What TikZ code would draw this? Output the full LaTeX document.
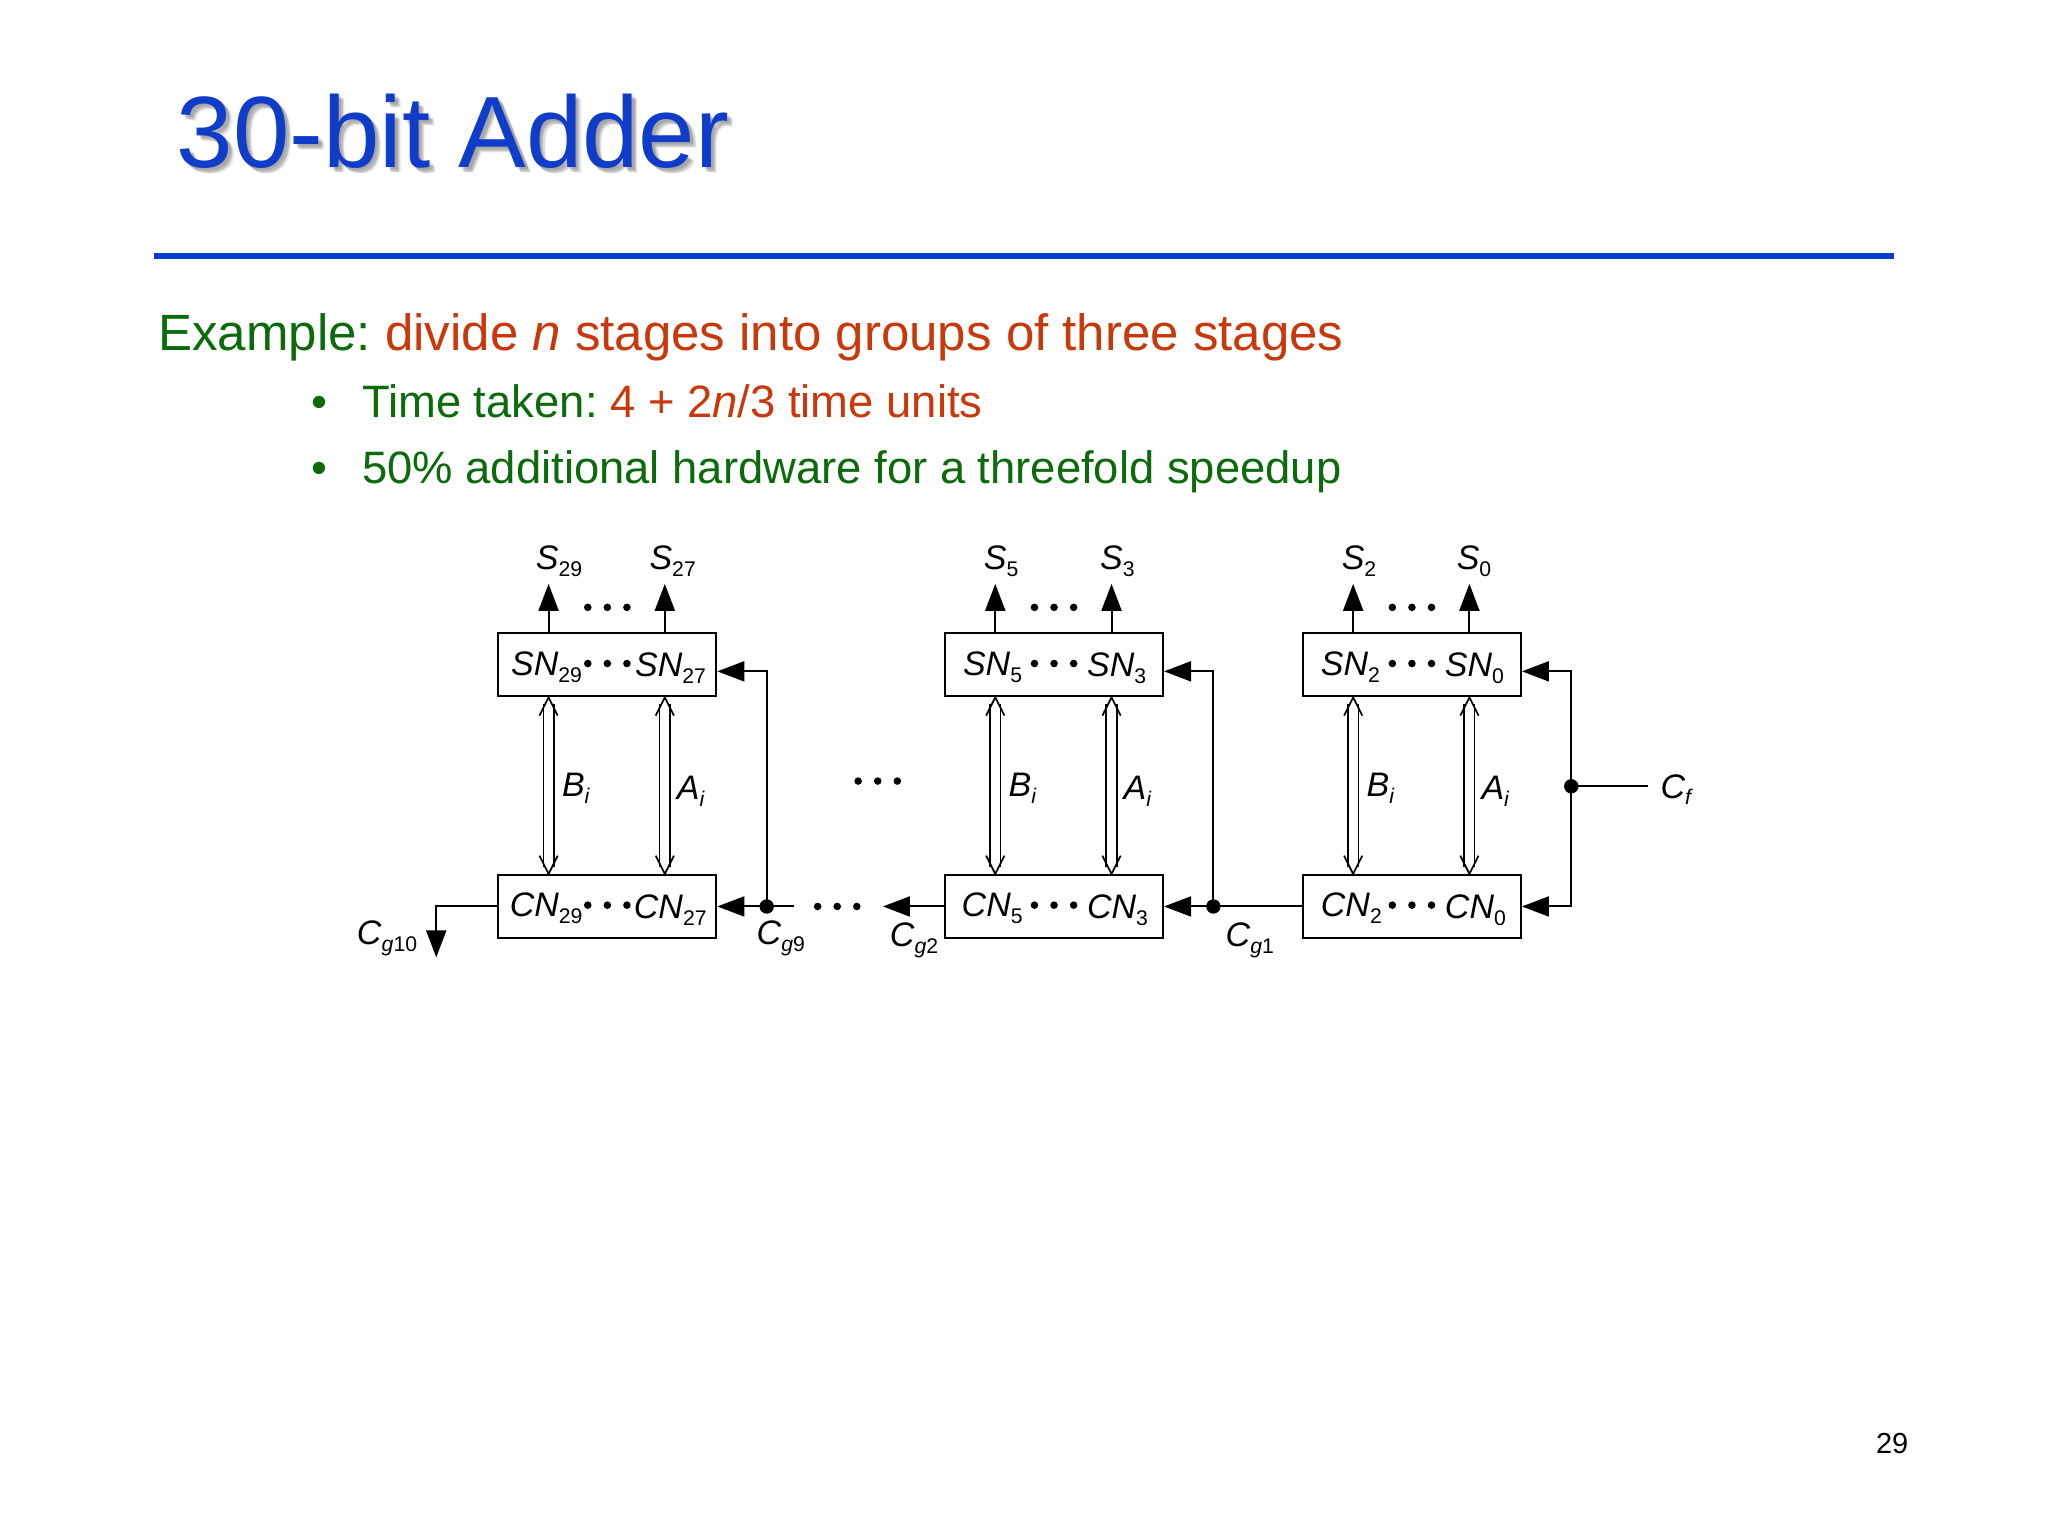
\documentclass[tikz,border=0pt]{standalone}
\usepackage{fontspec}
\setmainfont{Liberation Sans}
\usetikzlibrary{arrows.meta}
\definecolor{titleblue}{HTML}{0F3CC9}
\definecolor{rulecol}{HTML}{0A3CCB}
\definecolor{gr}{HTML}{0B6B0B}
\definecolor{rd}{HTML}{C8380A}
\newcommand{\fs}[1]{\fontsize{#1pt}{#1pt}\selectfont}
\newcommand{\sbx}[2]{\textit{#1}\raisebox{-0.2em}{\fs{10.6}#2}}
\newcommand{\busarrow}[2]{%
  \path #1 coordinate (bt) #2 coordinate (bb);
  \draw[busline] ([shift={(-4,5)}]bt) -- ([shift={(-4,-5)}]bb);
  \draw[busline] ([shift={(4,5)}]bt) -- ([shift={(4,-5)}]bb);
  \draw[busline] ([shift={(-7,14)}]bt) -- (bt) -- ([shift={(7,14)}]bt);
  \draw[busline] ([shift={(-7,-14)}]bb) -- (bb) -- ([shift={(7,-14)}]bb);
}
\newcommand{\threedots}[2]{%
  \fill (#1-15,#2) circle (2.9) (#1,#2) circle (2.9) (#1+15,#2) circle (2.9);
}
\tikzset{
  unit box/.style={draw,line width=1pt,minimum width=109pt,minimum height=31.5pt,inner sep=0pt},
  lab/.style={anchor=base west,inner sep=0pt,font=\fs{17}},
  wire/.style={line width=1pt},
  tipline/.style={wire,-{Triangle[length=13.5pt,width=10pt]}},
  busline/.style={line width=0.85pt,line join=miter},
  junction/.style={circle,fill=black,inner sep=0pt,minimum size=7.2pt},
  slidetext/.style={anchor=base west,inner sep=0pt},
}
\begin{document}
\frenchspacing
\begin{tikzpicture}[x=0.65306pt,y=-0.65306pt]
\useasboundingbox (0,0) rectangle (1568,1176);
\fill[white] (0,0) rectangle (1568,1176);
% title
\foreach \dx/\dy/\op in {2/2/.10,3/3/.14,4/4/.10,5/5/.05}
  \node[slidetext,text=black,opacity=\op,font=\fs{50.7}] at (135+\dx,128+\dy) {30-bit Adder};
\node[slidetext,text=titleblue,font=\fs{50.7}] (title) at (135,128) {30-bit Adder};
\coordinate (ruleL) at (118,196);
\coordinate (ruleR) at (1450,196);
\draw[rulecol,line width=3pt] (ruleL) -- (ruleR);
\node[slidetext,font=\fs{25.5},text=gr] (ex) at (121,268) {Example: \textcolor{rd}{divide \textit{n} stages into groups of three stages}};
\node[slidetext,font=\fs{22.7},text=gr] (b1) at (277,320) {Time taken: \textcolor{rd}{4 + 2\textit{n}/3 time units}};
\node[slidetext,font=\fs{22.7},text=gr] (b2) at (277,370) {50\% additional hardware for a threefold speedup};
\node[slidetext,font=\fs{22.7},text=gr] (d1) at (238,320) {•};
\node[slidetext,font=\fs{22.7},text=gr] (d2) at (238,370) {•};
\node[slidetext,font=\fs{14.5}] (page) at (1436,1113) {29};

% boxes
\node[unit box] (sn1) at (465,509) {};
\node[unit box] (cn1) at (465,694) {};
\node[unit box] (sn2) at (807,509) {};
\node[unit box] (cn2) at (807,694) {};
\node[unit box] (sn3) at (1081,509) {};
\node[unit box] (cn3) at (1081,694) {};

% free ends
\coordinate (s29) at (420,447);
\coordinate (s27) at (509,447);
\coordinate (s5) at (762,447);
\coordinate (s3) at (851,447);
\coordinate (s2) at (1036,447);
\coordinate (s0) at (1125,447);
\coordinate (in1) at ([shift={(0,5)}]sn1.east);
\coordinate (in2) at ([shift={(0,5)}]sn2.east);
\coordinate (in3) at ([shift={(0,5)}]sn3.east);

% outputs
\foreach \a/\b in {sn1/s29,sn1/s27,sn2/s5,sn2/s3,sn3/s2,sn3/s0}
  \draw[tipline] (\a.north -| \b) -- (\b);

% buses
\busarrow{(sn1.south -| s29)}{(cn1.north -| s29)}
\busarrow{(sn1.south -| s27)}{(cn1.north -| s27)}
\busarrow{(sn2.south -| s5)}{(cn2.north -| s5)}
\busarrow{(sn2.south -| s3)}{(cn2.north -| s3)}
\busarrow{(sn3.south -| s2)}{(cn3.north -| s2)}
\busarrow{(sn3.south -| s0)}{(cn3.north -| s0)}

% carry
\node[junction] (j9) at (587,694) {};
\node[junction] (j1) at (929,694) {};
\node[junction] (jf) at (1203,602) {};
\coordinate (cgend) at (334,733);
\coordinate (c9free) at (608,694);
\coordinate (c2tip) at (676,694);
\coordinate (cfend) at (1262,602);
\draw[tipline] (cn1.west) -- (cgend |- cn1.west) -- (cgend);
\draw[wire] (c9free) -- (j9.center);
\draw[tipline] (j9.center) -- (cn1.east);
\draw[tipline] (j9.center) -- (j9 |- in1) -- (in1);
\draw[tipline] (cn2.west) -- (c2tip);
\draw[tipline] (cn3.west) -- (cn2.east);
\draw[tipline] (j1.center) -- (j1 |- in2) -- (in2);
\draw[tipline] (jf.center) -- (jf |- in3) -- (in3);
\draw[tipline] (jf.center) -- (jf |- cn3.east) -- (cn3.east);
\draw[wire] (jf.center) -- (cfend);

% dots
\threedots{465}{465}\threedots{807}{465}\threedots{1081}{465}
\threedots{465}{508}\threedots{807}{508}\threedots{1081}{508}
\threedots{465}{693}\threedots{807}{693}\threedots{1081}{693}
\threedots{641}{694}\threedots{672}{598}

% labels
\node[lab] (l1) at (410,436) {\sbx{S}{29}};
\node[lab] (l2) at (497,436) {\sbx{S}{27}};
\node[lab] (l3) at (753,436) {\sbx{S}{5}};
\node[lab] (l4) at (842,436) {\sbx{S}{3}};
\node[lab] (l5) at (1027,436) {\sbx{S}{2}};
\node[lab] (l6) at (1115,436) {\sbx{S}{0}};
\node[lab] (l7) at (391,517) {\sbx{SN}{29}};
\node[lab] (l8) at (486,518) {\sbx{SN}{27}};
\node[lab] (l9) at (737,517) {\sbx{SN}{5}};
\node[lab] (l10) at (832,518) {\sbx{SN}{3}};
\node[lab] (l11) at (1011,517) {\sbx{SN}{2}};
\node[lab] (l12) at (1106,518) {\sbx{SN}{0}};
\node[lab] (l13) at (390,702) {\sbx{CN}{29}};
\node[lab] (l14) at (485,703) {\sbx{CN}{27}};
\node[lab] (l15) at (736,702) {\sbx{CN}{5}};
\node[lab] (l16) at (832,703) {\sbx{CN}{3}};
\node[lab] (l17) at (1011,702) {\sbx{CN}{2}};
\node[lab] (l18) at (1106,703) {\sbx{CN}{0}};
\foreach \n/\x in {1/430,2/772,3/1046}
  \node[lab] (bi\n) at (\x,610) {\sbx{B}{\textit{i}}};
\foreach \n/\x in {1/518,2/860,3/1134}
  \node[lab] (ai\n) at (\x,612) {\sbx{A}{\textit{i}}};
\node[lab] (c10) at (273,723) {\sbx{C}{\textit{g}10}};
\node[lab] (c9) at (579,723) {\sbx{C}{\textit{g}9}};
\node[lab] (c2) at (681,725) {\sbx{C}{\textit{g}2}};
\node[lab] (c1) at (938,725) {\sbx{C}{\textit{g}1}};
\node[lab] (cf) at (1271,611) {\sbx{C}{\textit{f}}};
\end{tikzpicture}
\end{document}
